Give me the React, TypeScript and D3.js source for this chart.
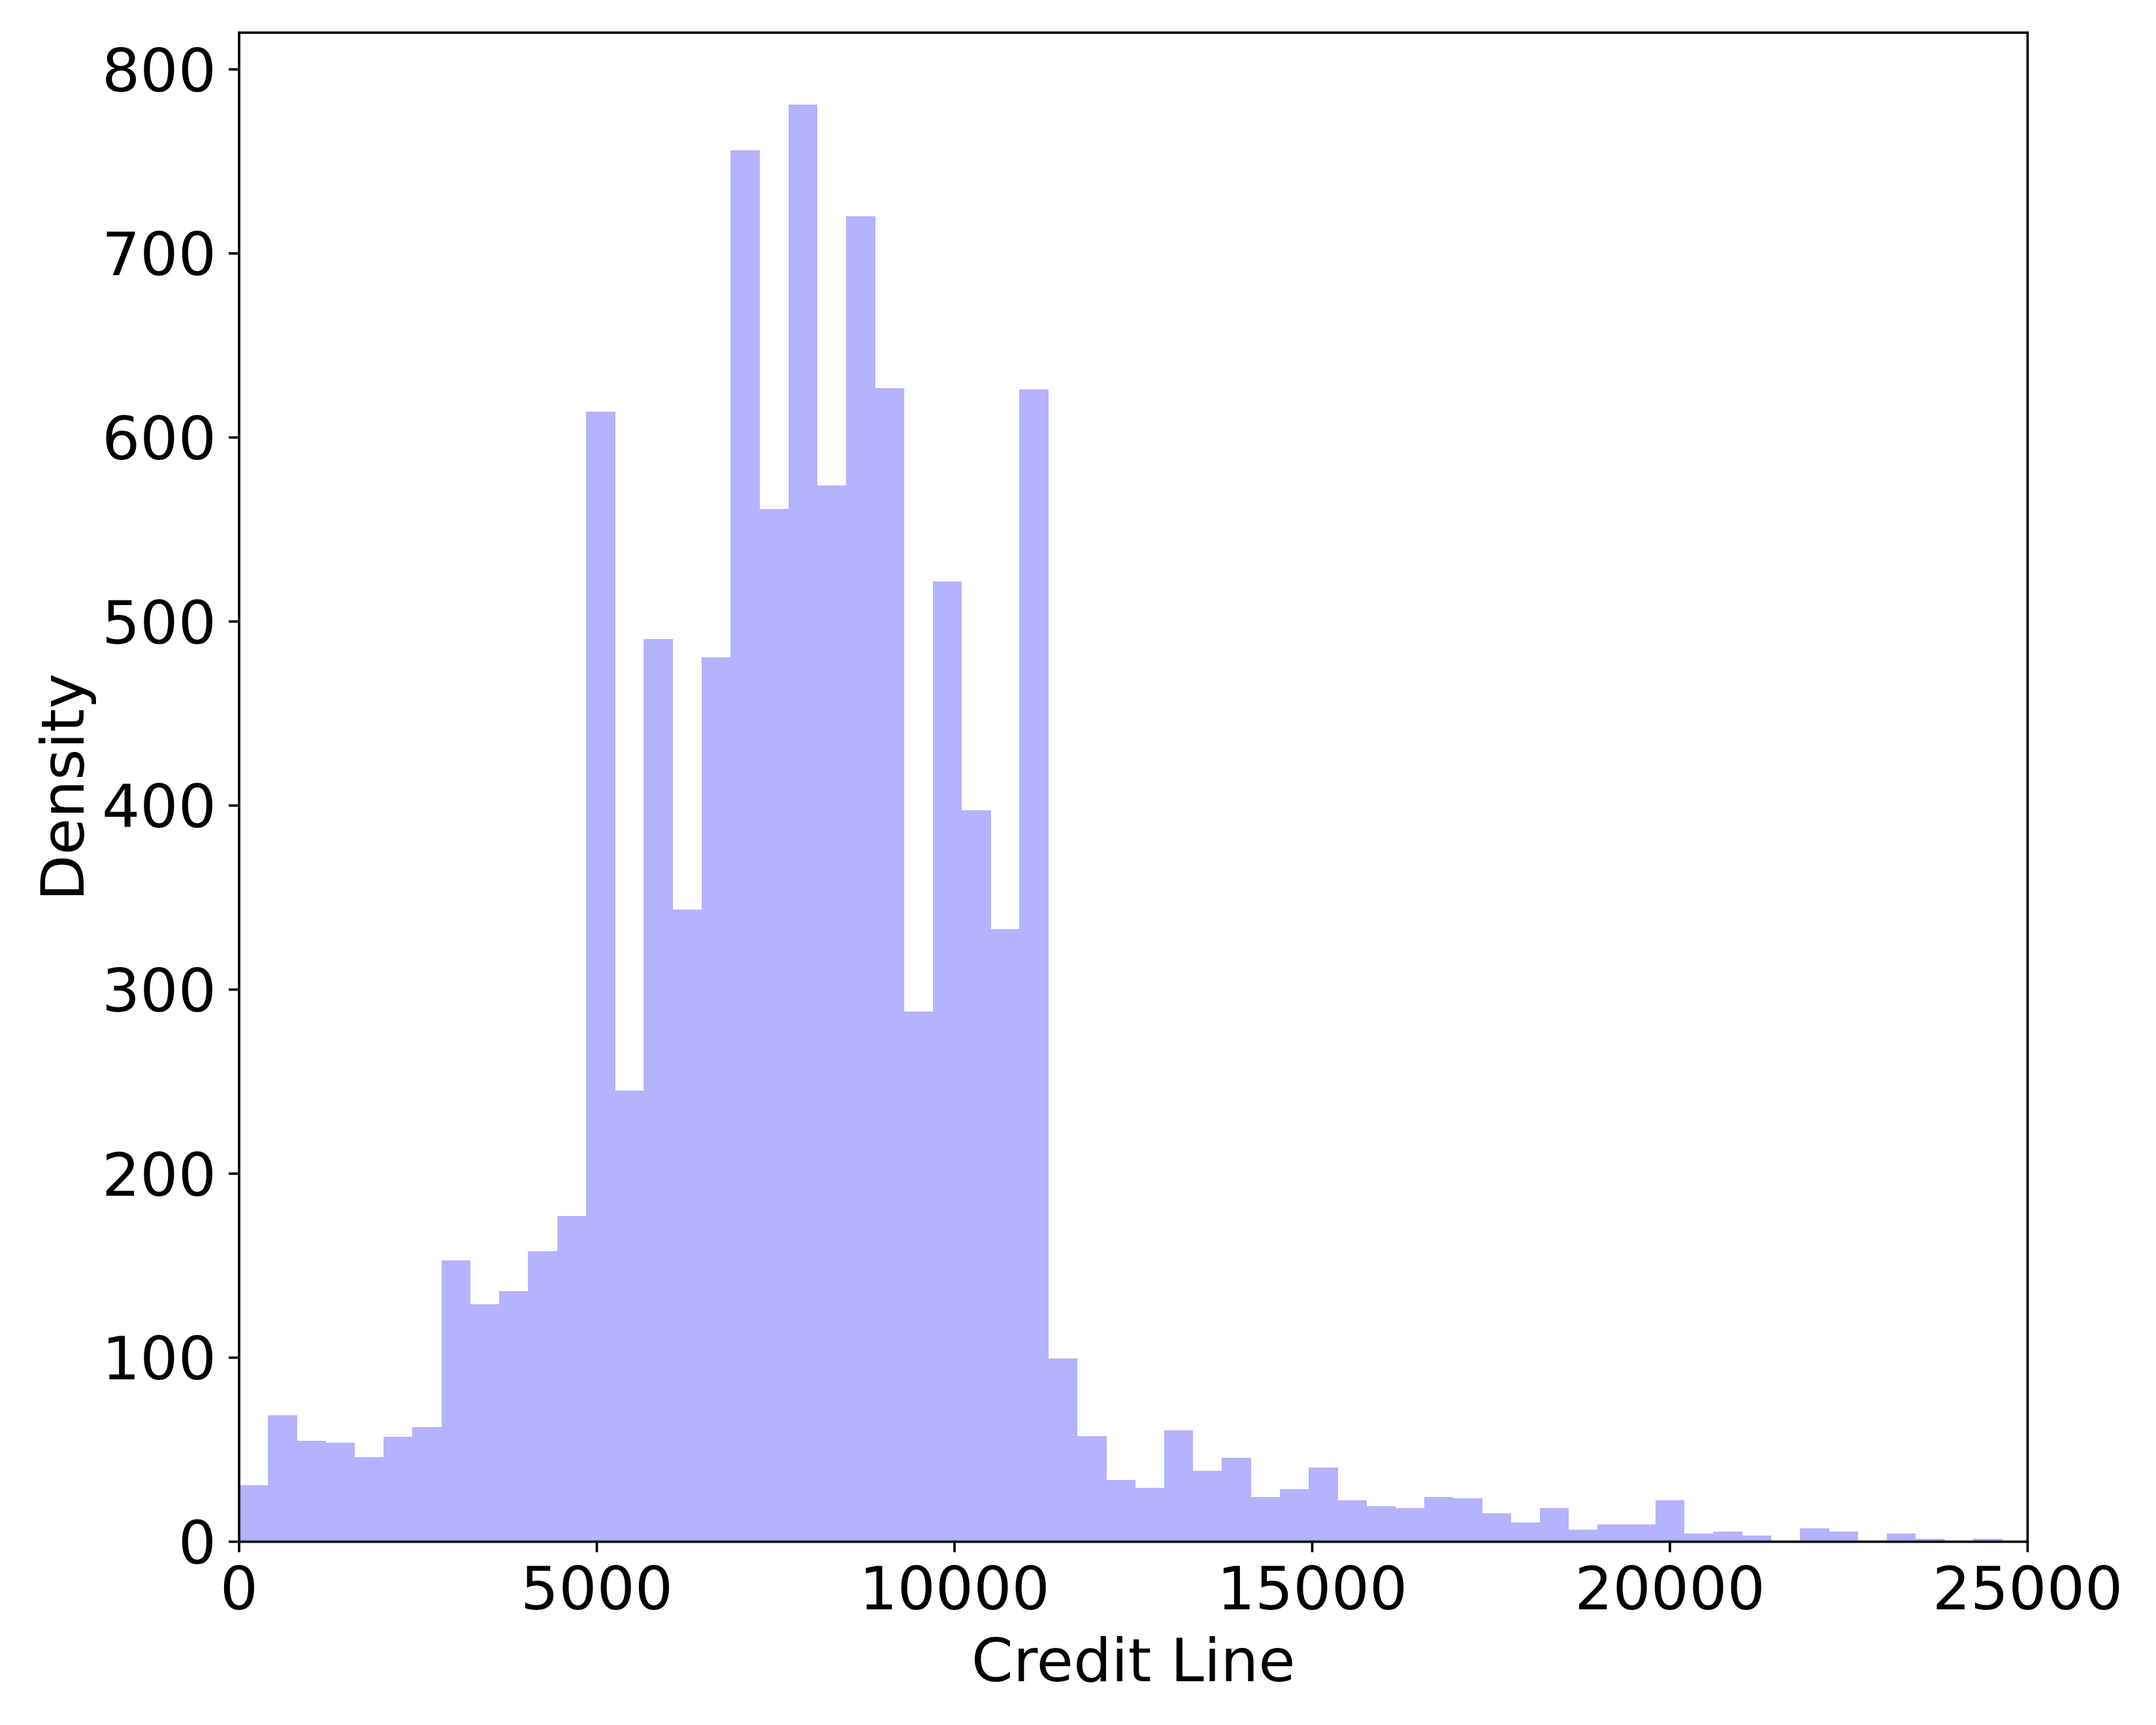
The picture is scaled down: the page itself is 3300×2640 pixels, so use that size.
import { useEffect, useRef } from "react";
import * as d3 from "d3";

// histogram of credit line, bins of equal width starting at 0
const binStart = 0;
const binWidth = 404;
const density = [
  30.6, 68.7, 54.9, 53.8, 46.0, 57.0, 62.2, 153.0, 128.9, 136.0, 157.9, 177.1,
  613.9, 245.0, 490.6, 343.6, 480.6, 755.9, 561.1, 780.9, 573.8, 720.1, 626.9,
  288.1, 521.8, 397.4, 332.8, 626.1, 99.7, 57.4, 33.6, 29.4, 60.6, 38.6, 45.7,
  24.4, 28.7, 40.4, 22.6, 19.4, 18.4, 24.4, 23.7, 15.5, 10.5, 18.4, 6.6, 9.5,
  9.5, 22.6, 4.5, 5.6, 3.4, 0, 7.3, 5.6, 0.6, 4.5, 1.7, 0.6, 1.7, 0.6,
];
const xTicks = [0, 5000, 10000, 15000, 20000, 25000];
const yTicks = [0, 100, 200, 300, 400, 500, 600, 700, 800];
const xLabel = "Credit Line";
const yLabel = "Density";

export default function App() {
  const svgRef = useRef<SVGSVGElement>(null);

  useEffect(() => {
    const width = 3300;
    const height = 2640;
    const left = 366;
    const right = 3103.5;
    const top = 50;
    const bottom = 2359.5;
    const font = "DejaVu Sans, sans-serif";
    const fontSize = 91.7;
    const lw = 3.7;

    const svg = d3.select(svgRef.current);
    svg.selectAll("*").remove();
    svg.attr("width", width).attr("height", height);

    svg.append("rect").attr("width", width).attr("height", height).attr("fill", "white");

    const x = d3.scaleLinear().domain([0, 25000]).range([left, right]);
    const yMax = (d3.max(density) ?? 0) * 1.05;
    const y = d3.scaleLinear().domain([0, yMax]).range([bottom, top]);

    svg.append("clipPath").attr("id", "plot-clip")
      .append("rect")
      .attr("x", left).attr("y", top)
      .attr("width", right - left).attr("height", bottom - top);

    const bins = density.map((v, i) => ({
      x0: binStart + i * binWidth,
      x1: binStart + (i + 1) * binWidth,
      v,
    }));

    // Bars
    svg.append("g")
      .attr("clip-path", "url(#plot-clip)")
      .selectAll("rect")
      .data(bins.filter(d => d.v > 0))
      .enter()
      .append("rect")
      .attr("x", d => x(d.x0))
      .attr("y", d => y(d.v))
      .attr("width", d => x(d.x1) - x(d.x0) + 0.5)
      .attr("height", d => bottom - y(d.v))
      .attr("fill", "#b3b3ff")
      .attr("shape-rendering", "crispEdges");

    // Spines
    svg.append("rect")
      .attr("x", left).attr("y", top)
      .attr("width", right - left).attr("height", bottom - top)
      .attr("fill", "none")
      .attr("stroke", "black")
      .attr("stroke-width", lw)
      .attr("stroke-linejoin", "miter");

    // X ticks
    const gx = svg.append("g");
    gx.selectAll("line")
      .data(xTicks)
      .enter()
      .append("line")
      .attr("x1", d => x(d)).attr("x2", d => x(d))
      .attr("y1", bottom).attr("y2", bottom + 16)
      .attr("stroke", "black")
      .attr("stroke-width", lw);
    gx.selectAll("text")
      .data(xTicks)
      .enter()
      .append("text")
      .attr("x", d => x(d))
      .attr("y", 2463)
      .attr("text-anchor", "middle")
      .attr("font-family", font)
      .attr("font-size", fontSize)
      .attr("fill", "black")
      .text(d => String(d));

    // Y ticks
    const gy = svg.append("g");
    gy.selectAll("line")
      .data(yTicks)
      .enter()
      .append("line")
      .attr("x1", left - 16).attr("x2", left)
      .attr("y1", d => y(d)).attr("y2", d => y(d))
      .attr("stroke", "black")
      .attr("stroke-width", lw);
    gy.selectAll("text")
      .data(yTicks)
      .enter()
      .append("text")
      .attr("x", 331)
      .attr("y", d => y(d) + 33.5)
      .attr("text-anchor", "end")
      .attr("font-family", font)
      .attr("font-size", fontSize)
      .attr("fill", "black")
      .text(d => String(d));

    // Axis labels
    svg.append("text")
      .attr("x", (left + right) / 2)
      .attr("y", 2573)
      .attr("text-anchor", "middle")
      .attr("font-family", font)
      .attr("font-size", fontSize)
      .attr("fill", "black")
      .text(xLabel);

    svg.append("text")
      .attr("transform", `translate(128,${(top + bottom) / 2}) rotate(-90)`)
      .attr("text-anchor", "middle")
      .attr("font-family", font)
      .attr("font-size", fontSize)
      .attr("fill", "black")
      .text(yLabel);
  }, []);

  return (
    <svg
      ref={svgRef}
      width={3300}
      height={2640}
      style={{ position: "absolute", left: 0, top: 0, display: "block" }}
    ></svg>
  );
}
